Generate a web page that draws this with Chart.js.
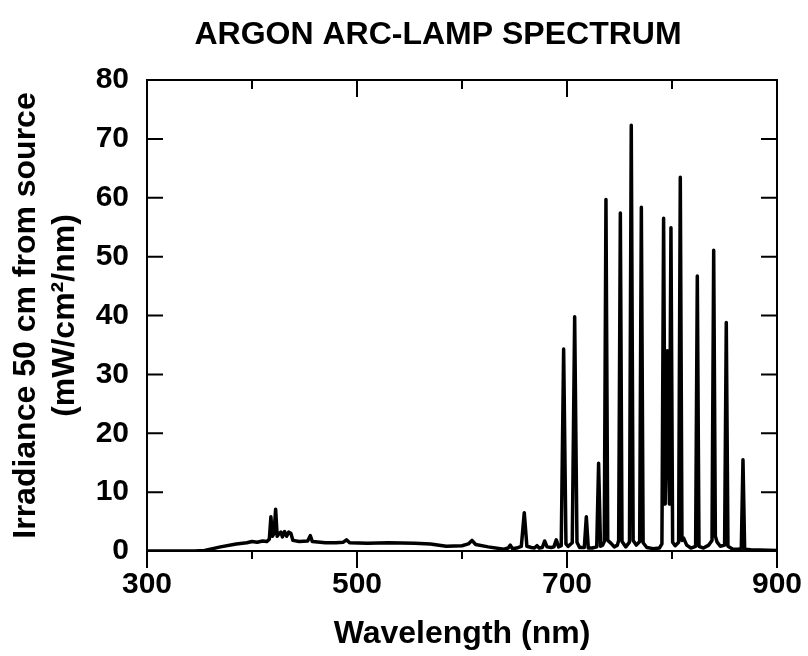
<!DOCTYPE html>
<html lang="en">
<head>
    <meta charset="UTF-8">
    <title>Argon Arc-Lamp Spectrum</title>
    <script src="https://cdn.jsdelivr.net/npm/chart.js"></script>
    <style>
        html, body { margin: 0; padding: 0; background: #fff; }
        .chart-box { position: relative; width: 808px; height: 656px; }
    </style>
</head>
<body>
    <div class="chart-box">
        <canvas id="spectrumChart"></canvas>
    </div>

    <script>
        // wavelength (nm) and irradiance (mW/cm2/nm)
        var wavelengths = [
            300, 345, 355, 370, 385, 395, 400, 405, 410, 414, 416.5, 418, 419.5, 421, 422.5, 424,
            426, 427.5, 429, 431, 433, 435, 437, 439, 445, 453, 455.5, 457.5, 470, 480, 487, 490,
            493, 510, 530, 555, 570, 585, 600, 606, 609.5, 613, 625, 640, 644, 646, 648, 652,
            656.5, 659.3, 661.8, 666, 669, 671.4, 673.5, 676.5, 678.7, 681, 685, 687.5, 689.8, 692,
            694.5, 696.8, 699, 701, 705, 707.3, 709.5, 712, 716.5, 718.4, 720.3, 724, 728.3, 730.1,
            731.9, 734, 735.5, 737.1, 738.8, 742, 745, 748, 749.2, 750.8, 752.4, 756, 759.5, 761.2,
            763, 766, 769.2, 770.8, 772.5, 776, 782, 788, 790.4, 792, 793.5, 795.5, 797.5, 799,
            800.6, 803, 806.3, 807.9, 809.5, 811, 814, 818, 822.5, 824.1, 825.7, 830, 835, 838.1,
            839.7, 841.3, 843, 846, 850.1, 851.7, 853.3, 858, 863, 866, 867.6, 869.2, 875, 900
        ];
        var irradiance = [
            0, 0, 0.1, 0.7, 1.2, 1.4, 1.6, 1.5, 1.7, 1.6, 2.0, 5.8, 2.5, 3.0, 7.1, 2.5,
            3.0, 3.2, 2.4, 3.3, 2.5, 3.2, 3.0, 1.8, 1.6, 1.7, 2.6, 1.6, 1.4, 1.4, 1.5, 1.9,
            1.4, 1.3, 1.4, 1.3, 1.2, 0.8, 0.9, 1.2, 1.8, 1.1, 0.7, 0.3, 0.5, 1.0, 0.4, 0.5,
            0.8, 6.5, 0.8, 0.6, 0.5, 0.9, 0.5, 0.6, 1.7, 0.7, 0.6, 0.7, 1.9, 0.7,
            0.9, 34.3, 1.2, 0.8, 1.4, 39.8, 1.5, 0.6, 0.6, 5.8, 0.5, 0.5, 0.7, 14.9,
            0.8, 1.0, 1.6, 59.7, 1.8, 1.3, 0.7, 1.0, 1.8, 57.4, 1.6, 0.7, 1.5, 72.3,
            1.8, 1.0, 1.6, 58.4, 1.4, 0.6, 0.4, 0.5, 1.2, 56.5, 8, 34, 8, 54.9,
            1.5, 0.9, 1.5, 63.5, 1.8, 2.2, 1.0, 0.5, 0.8, 46.7, 0.8, 0.5, 1.0, 1.8,
            51.1, 2.5, 1.5, 0.8, 1.0, 38.8, 0.8, 0.3, 0.3, 0.4, 15.5, 0.3, 0.2, 0.1
        ];

        var xLabelTicks = [300, 500, 700, 900];
        var xMinorTicks = [400, 600, 800];
        var yTicks = [0, 10, 20, 30, 40, 50, 60, 70, 80];

        var fontFamily = '"Liberation Sans", Arial, Helvetica, sans-serif';

        // frame, inner/outer tick marks and the title
        var framePlugin = {
            id: 'frame',
            afterDraw: function (chart) {
                var ctx = chart.ctx;
                var area = chart.chartArea;
                var xs = chart.scales.x;
                var ys = chart.scales.y;
                ctx.save();
                ctx.strokeStyle = '#000';
                ctx.lineWidth = 2;
                ctx.strokeRect(area.left, area.top, area.right - area.left, area.bottom - area.top);

                ctx.beginPath();
                yTicks.forEach(function (v) {
                    var y = ys.getPixelForValue(v);
                    ctx.moveTo(area.left, y);
                    ctx.lineTo(area.left + 16, y);
                    ctx.moveTo(area.right, y);
                    ctx.lineTo(area.right - 16, y);
                });
                xLabelTicks.forEach(function (v) {
                    var x = xs.getPixelForValue(v);
                    ctx.moveTo(x, area.bottom);
                    ctx.lineTo(x, area.bottom + 17);
                    ctx.moveTo(x, area.top);
                    ctx.lineTo(x, area.top + 17);
                });
                xMinorTicks.forEach(function (v) {
                    var x = xs.getPixelForValue(v);
                    ctx.moveTo(x, area.bottom);
                    ctx.lineTo(x, area.bottom + 8);
                    ctx.moveTo(x, area.top);
                    ctx.lineTo(x, area.top + 9);
                });
                ctx.stroke();

                ctx.fillStyle = '#000';
                ctx.font = 'bold 32px ' + fontFamily;
                ctx.textAlign = 'center';
                ctx.textBaseline = 'middle';
                ctx.fillText('ARGON ARC-LAMP SPECTRUM', 438, 35);
                ctx.restore();
            }
        };

        var points = wavelengths.map(function (w, i) {
            return { x: w, y: irradiance[i] };
        });

        var ctx = document.getElementById('spectrumChart').getContext('2d');
        var spectrumChart = new Chart(ctx, {
            type: 'line',
            data: {
                datasets: [{
                    label: 'Irradiance',
                    data: points,
                    borderColor: '#000',
                    borderWidth: 3.5,
                    borderJoinStyle: 'round',
                    pointRadius: 0,
                    tension: 0,
                    fill: false
                }]
            },
            options: {
                responsive: true,
                maintainAspectRatio: false,
                animation: false,
                layout: { padding: { top: 80, right: 31, bottom: 0, left: 0 } },
                plugins: {
                    legend: { display: false },
                    title: { display: false },
                    tooltip: { enabled: false }
                },
                scales: {
                    x: {
                        type: 'linear',
                        min: 300,
                        max: 900,
                        grid: { display: false, drawTicks: false },
                        border: { display: false },
                        afterFit: function (scale) {
                            scale.height = 105;
                            scale.paddingLeft = 0;
                            scale.paddingRight = 0;
                        },
                        ticks: {
                            stepSize: 200,
                            autoSkip: false,
                            maxRotation: 0,
                            padding: 16,
                            color: '#000',
                            font: { family: fontFamily, size: 30, weight: 'bold' }
                        },
                        title: {
                            display: true,
                            text: 'Wavelength (nm)',
                            color: '#000',
                            font: { family: fontFamily, size: 32, weight: 'bold', lineHeight: 1.2 },
                            padding: { top: 0, bottom: 3 }
                        }
                    },
                    y: {
                        min: 0,
                        max: 80,
                        grid: { display: false, drawTicks: false },
                        border: { display: false },
                        afterFit: function (scale) { scale.width = 147; },
                        ticks: {
                            stepSize: 10,
                            autoSkip: false,
                            padding: 18,
                            color: '#000',
                            font: { family: fontFamily, size: 30, weight: 'bold' }
                        },
                        title: {
                            display: true,
                            text: ['Irradiance 50 cm from source', '(mW/cm\u00b2/nm)'],
                            color: '#000',
                            font: { family: fontFamily, size: 32, weight: 'bold', lineHeight: 1.22 },
                            padding: { top: 7, bottom: 0 }
                        }
                    }
                }
            },
            plugins: [framePlugin]
        });
    </script>
</body>
</html>
